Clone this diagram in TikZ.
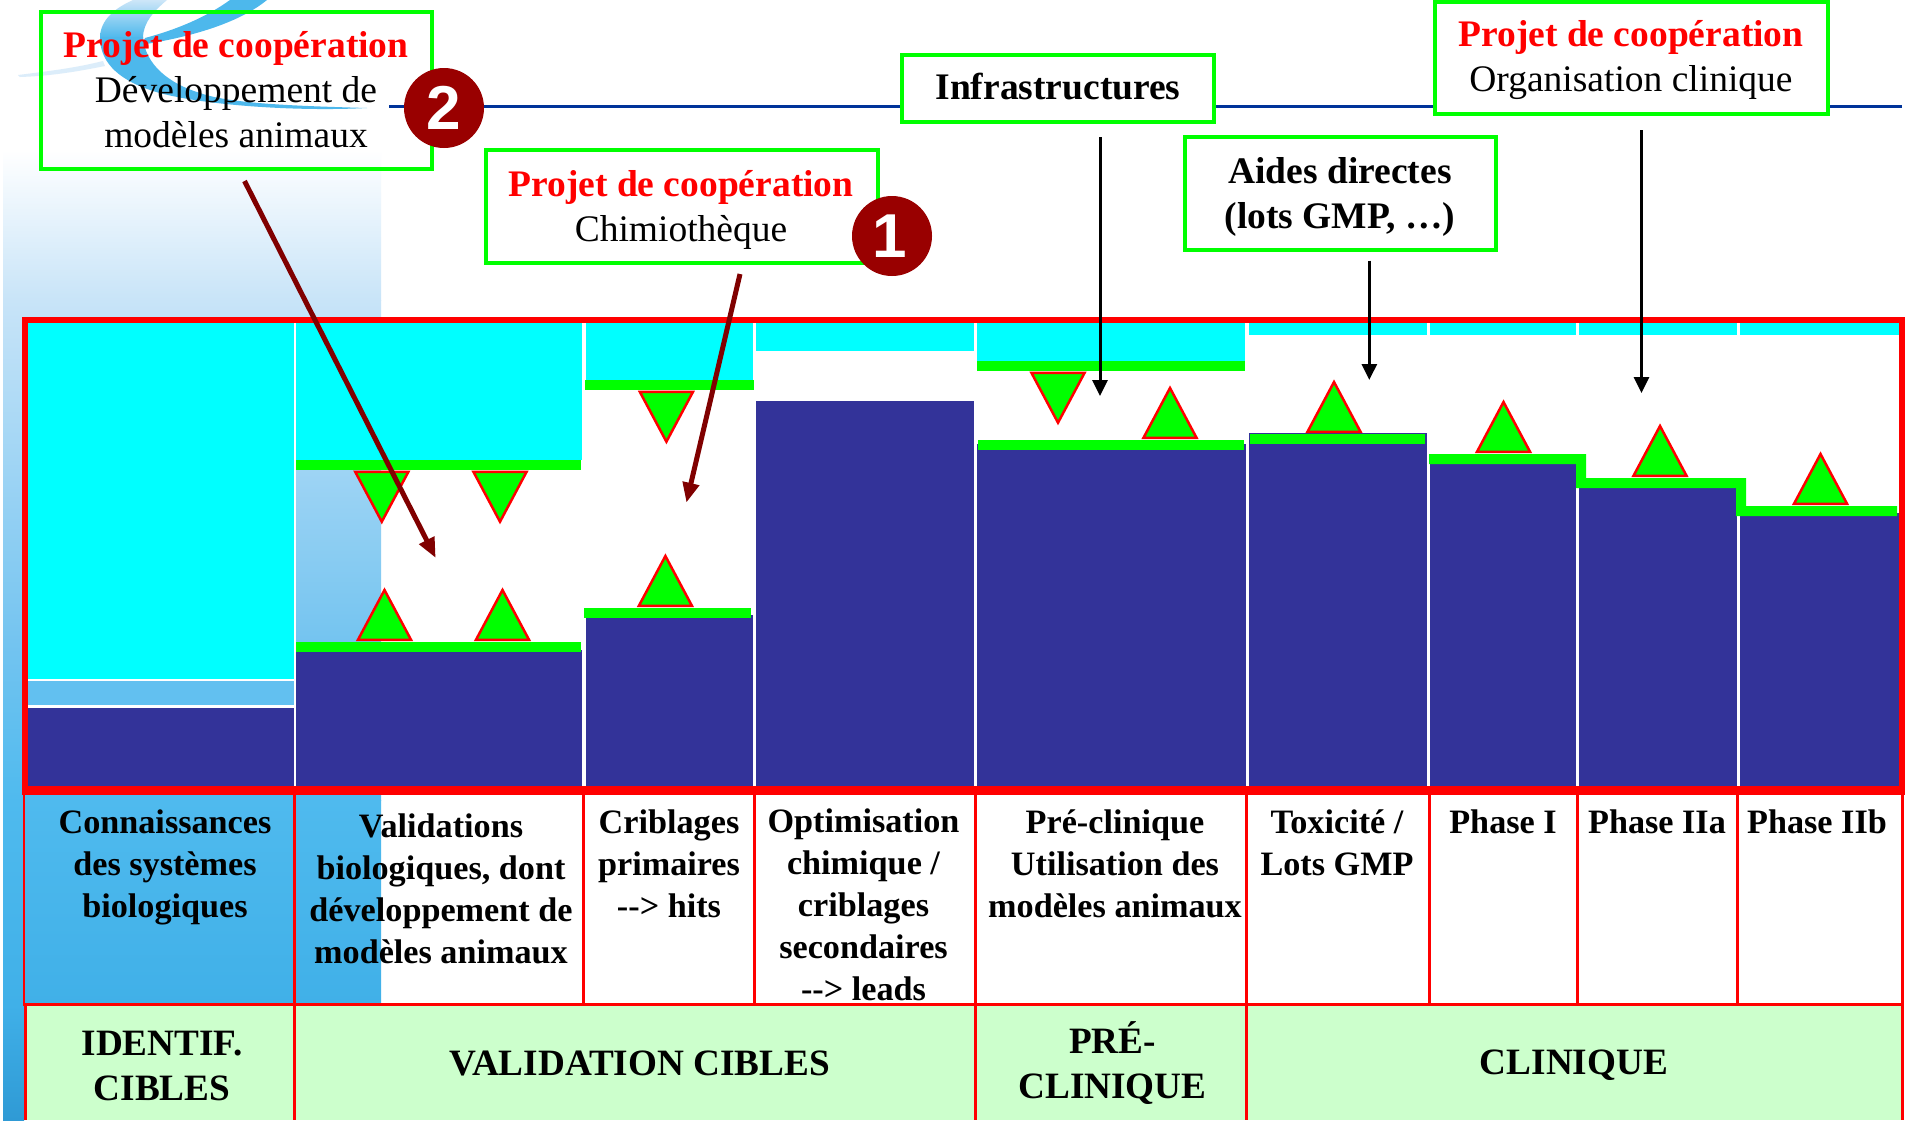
\documentclass[tikz,border=0pt]{standalone}
\usepackage{fontspec}
\setmainfont{Liberation Serif}
\newfontfamily\numfont{Liberation Sans}
\usetikzlibrary{arrows.meta}
\definecolor{cCyan}{HTML}{00FFFF}
\definecolor{cGreen}{HTML}{00FF00}
\definecolor{cRed}{HTML}{FF0000}
\definecolor{cNavy}{HTML}{333399}
\definecolor{cBrown}{HTML}{800000}
\definecolor{cDisc}{HTML}{990000}
\definecolor{cLine}{HTML}{003399}
\definecolor{cPale}{HTML}{CCFFCC}
\definecolor{cBand}{HTML}{62C0F0}
\definecolor{cSw}{HTML}{4DB8EC}
\definecolor{cSwL}{HTML}{CDE6F8}
\definecolor{gA}{HTML}{C8E4F8}
\definecolor{gB}{HTML}{74C4F0}
\definecolor{gC}{HTML}{4FBAEE}
\definecolor{gD}{HTML}{40B0E8}
\definecolor{gE}{HTML}{2F9AD5}
\newcommand{\mlines}[1]{\begin{tabular}[t]{@{}c@{}}#1\end{tabular}}
\newcommand{\upT}[2]{\draw[tri] (#1-26.5,#2-1.25) -- (#1+26.5,#2-1.25) -- (#1,#2-51) -- cycle;}
\newcommand{\dnT}[2]{\draw[tri] (#1-26.5,#2+1.25) -- (#1+26.5,#2+1.25) -- (#1,#2+51) -- cycle;}
\tikzset{
  tri/.style={fill=cGreen,draw=cRed,line width=2.5pt},
  navy/.style={fill=cNavy},
  cyanbar/.style={fill=cCyan},
  greenbar/.style={fill=cGreen},
  grid/.style={draw=cRed,line width=3pt},
  frame/.style={draw=cRed,line width=6pt},
  gbox/.style={draw=cGreen,line width=4pt},
  cell/.style={anchor=base,inner sep=0pt,font=\fontsize{34.2}{42}\selectfont\bfseries},
  phase/.style={anchor=base,inner sep=0pt,font=\fontsize{37.2}{45}\selectfont\bfseries},
  boxt/.style={anchor=base,inner sep=0pt,font=\fontsize{37.5}{45}\selectfont},
  boxtb/.style={anchor=base,inner sep=0pt,font=\fontsize{37.5}{45}\selectfont\bfseries},
  disc/.style={circle,fill=cDisc,minimum size=80pt,inner sep=0pt,text=white,font=\fontsize{62}{62}\selectfont\numfont\bfseries},
  brownarrow/.style={draw=cBrown,line width=5pt,-{Triangle[length=20pt,width=16pt]}},
  blackarrow/.style={draw=black,line width=3pt,-{Triangle[length=16pt,width=15pt]}}
}
\begin{document}
\begin{tikzpicture}[x=1pt,y=-1pt]
\useasboundingbox (0,0) rectangle (1905,1120);
\fill[white] (0,0) rectangle (1905,1120);
% background gradient
\shade[top color=white,bottom color=gA] (3,150) rectangle (381,300.5);
\shade[top color=gA,bottom color=gB] (3,300) rectangle (381,640.5);
\shade[top color=gB,bottom color=gC] (3,640) rectangle (381,800.5);
\shade[top color=gC,bottom color=gD] (3,800) rectangle (381,1005.5);
\shade[top color=gD,bottom color=gE] (3,1005) rectangle (24,1120);
% logo swoosh
\fill[cSwL!70!white] (18,75) .. controls (50,71) and (75,68) .. (103,61) -- (105,66) .. controls (75,72) and (50,76) .. (20,77) -- cycle;
\shade[top color=cSwL,bottom color=cSw] (133,0) .. controls (115,8) and (100,20) .. (100,38) -- (143,38) .. controls (143,22) and (155,10) .. (167,0) -- cycle;
\fill[cSw] (100,37) .. controls (100,60) and (115,78) .. (150,90) .. controls (190,104) and (290,112) .. (367,108)
  .. controls (300,106) and (230,104) .. (200,93) .. controls (170,84) and (145,65) .. (143,37) -- cycle;
\fill[cSw] (230,0) -- (267,0) .. controls (240,22) and (195,36) .. (146,44) .. controls (143,42) and (143,40) .. (145,38) .. controls (175,30) and (205,18) .. (230,0) -- cycle;
% horizontal rule
\coordinate (ruleL) at (389,106.7);
\coordinate (ruleR) at (1902,106.7);
\draw[cLine,line width=3pt] (ruleL) -- (ruleR);
% column 1
\fill[white] (28,323) rectangle (296,787);
\fill[cyanbar] (28,323) rectangle (294,679);
\fill[cBand] (28,681) rectangle (294,705);
\fill[navy] (28,707.5) rectangle (294,787);
% column 2
\fill[cyanbar] (296,323) rectangle (582,460);
\fill[navy] (296,650) rectangle (582,787);
\fill[greenbar] (296,460) rectangle (581,470);
\fill[greenbar] (296,642) rectangle (581,652);
% column 3
\fill[cyanbar] (585.5,323) rectangle (753,380);
\fill[navy] (585.5,615) rectangle (753,787);
\fill[greenbar] (585,380) rectangle (754,390);
\fill[greenbar] (584,608) rectangle (751,618);
% column 4
\fill[cyanbar] (756,323) rectangle (974,350.5);
\fill[navy] (756,401) rectangle (974,787);
% column 5
\fill[cyanbar] (977,323) rectangle (1245,361);
\fill[navy] (977,444) rectangle (1245.5,787);
\fill[greenbar] (977,361) rectangle (1245,371);
\fill[greenbar] (978,440) rectangle (1244,450);
% column 6
\fill[cyanbar] (1248.5,323) rectangle (1426.5,335);
\fill[navy] (1248.5,433) rectangle (1426.5,787);
\fill[greenbar] (1250,434) rectangle (1425,444);
% columns 7 to 9
\fill[cyanbar] (1430,323) rectangle (1575.5,335);
\fill[cyanbar] (1579,323) rectangle (1737,335);
\fill[cyanbar] (1740,323) rectangle (1899,335);
\fill[navy] (1430,460) rectangle (1575.5,787);
\fill[navy] (1579,484) rectangle (1737,787);
\fill[navy] (1740,513) rectangle (1899,787);
\fill[greenbar] (1429,454) -- (1586,454) -- (1586,478) -- (1746,478) -- (1746,506) -- (1897,506) -- (1897,516)
  -- (1736,516) -- (1736,488) -- (1576,488) -- (1576,464) -- (1429,464) -- cycle;
% triangles
\dnT{381.8}{470.7} \dnT{500}{470.7} \dnT{666.4}{390.7} \dnT{1058}{371.7}
\upT{384.5}{641} \upT{502.5}{641} \upT{665.4}{607} \upT{1170}{439}
\upT{1334}{433} \upT{1503.5}{453} \upT{1660}{477} \upT{1820.5}{505}
% lower table
\fill[cPale] (25,1005) rectangle (1902,1120);
\foreach \gx in {294.7,583.7,754.4,975.4,1246,1429.3,1577.7,1737.8,1902}
  \draw[grid] (\gx,795) -- (\gx,1004);
\draw[cRed,line width=2pt] (23.5,795) -- (23.5,1004);
\draw[grid] (23,1004.3) -- (1903,1004.3);
\foreach \gx in {25,294.7,975.4,1246,1902}
  \draw[grid] (\gx,1004) -- (\gx,1120);
% main frame
\draw[frame] (25,320) rectangle (1902,790);
\draw[cRed,line width=9pt] (22,790.5) -- (1905,790.5);
% row labels
\node[cell] (c1) at (165,833) {\mlines{Connaissances\\des systèmes\\biologiques}};
\node[cell] (c2) at (441,837) {\mlines{Validations\\biologiques, dont\\développement de\\modèles animaux}};
\node[cell] (c3) at (669,833) {\mlines{Criblages\\primaires\\-{}-> hits}};
\node[cell] (c4) at (863.5,832) {\mlines{Optimisation\\chimique /\\criblages\\secondaires\\-{}-> leads}};
\node[cell] (c5) at (1115,833) {\mlines{Pré-clinique\\Utilisation des\\modèles animaux}};
\node[cell] (c6) at (1337,833) {\mlines{Toxicité /\\Lots GMP}};
\node[cell] (c7) at (1503,833) {Phase I};
\node[cell] (c8) at (1657,833) {Phase IIa};
\node[cell] (c9) at (1817,833) {Phase IIb};
\node[phase] (p1) at (162,1055) {\mlines{IDENTIF.\\CIBLES}};
\node[phase] (p2) at (640,1075) {VALIDATION CIBLES};
\node[phase] (p3) at (1112.5,1053) {\mlines{PRÉ-\\CLINIQUE}};
\node[phase] (p4) at (1574,1074) {CLINIQUE};
% boxes
\draw[gbox] (41,12) rectangle (432,169);
\draw[gbox,fill=white] (486,150) rectangle (878,263);
\draw[gbox,fill=white] (902,55) rectangle (1214,122);
\draw[gbox,fill=white] (1185,137) rectangle (1496,249.6);
\draw[gbox,fill=white] (1435.4,1.5) rectangle (1827.6,113.7);
\node[boxt] (ta) at (236,57) {\mlines{\textcolor{cRed}{\bfseries Projet de coopération}\\Développement de\\modèles animaux}};
\node[boxt] (tb) at (681,196) {\mlines{\textcolor{cRed}{\bfseries Projet de coopération}\\Chimiothèque}};
\node[boxtb] (tc) at (1058,99.3) {Infrastructures};
\node[boxtb] (td) at (1340,183) {\mlines{Aides directes\\(lots GMP, …)}};
\node[boxt] (te) at (1631,46.7) {\mlines{\textcolor{cRed}{\bfseries Projet de coopération}\\Organisation clinique}};
% discs
\node[disc] (d2) at (444,108) {\raisebox{-3pt}{2}};
\node[disc] (d1) at (892,236) {\raisebox{-1pt}{\hspace*{-5pt}1}};
% arrows
\coordinate (a2s) at (244.5,181);
\coordinate (a2e) at (435.7,558);
\coordinate (a1s) at (740,274);
\coordinate (a1e) at (686.4,502.7);
\draw[brownarrow] (a2s) -- (a2e);
\draw[brownarrow] (a1s) -- (a1e);
\coordinate (a3s) at (1100,137.3);
\coordinate (a3e) at (1100,396);
\coordinate (a4s) at (1369.3,260.7);
\coordinate (a4e) at (1369.3,380);
\coordinate (a5s) at (1641.5,130);
\coordinate (a5e) at (1641.5,393);
\draw[blackarrow] (a3s) -- (a3e);
\draw[blackarrow] (a4s) -- (a4e);
\draw[blackarrow] (a5s) -- (a5e);
\end{tikzpicture}
\end{document}
